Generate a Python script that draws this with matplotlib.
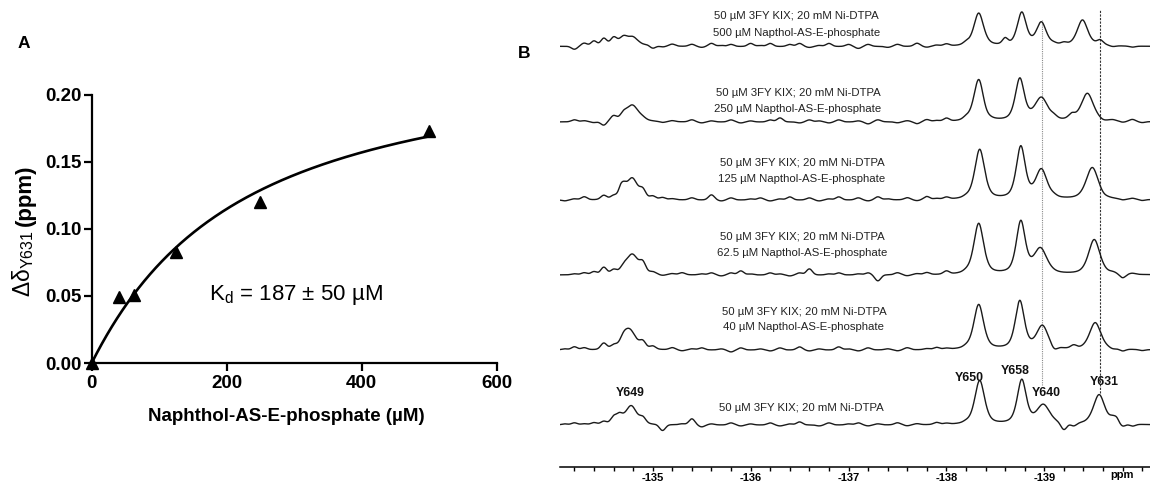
import numpy as np
import matplotlib
matplotlib.use("Agg")
import matplotlib.pyplot as plt

plt.rcParams['font.family'] = ['Liberation Sans', 'DejaVu Sans']
plt.rcParams['mathtext.fontset'] = 'custom'
plt.rcParams['mathtext.rm'] = 'Liberation Sans'
plt.rcParams['mathtext.it'] = 'Liberation Sans:italic'
plt.rcParams['mathtext.bf'] = 'Liberation Sans:bold'
plt.rcParams['axes.unicode_minus'] = False

# ---------------- Panel A data ----------------
ligand_uM = [0, 40, 62.5, 125, 250, 500]
delta_ppm = [0.0, 0.049, 0.051, 0.083, 0.120, 0.173]
kd_uM = 187
kd_err_uM = 50
protein_uM = 50
delta_max = 0.237
a_xticks = [0, 200, 400, 600]
a_yticks = [0.00, 0.05, 0.10, 0.15, 0.20]

# ---------------- Panel B data ----------------
conc_labels = ["500", "250", "125", "62.5", "40", None]
peak_names = ["Y649", "Y650", "Y658", "Y640", "Y631"]
peak_pos = [
    [-134.75, -138.33, -138.77, -138.97, -139.39],
    [-134.79, -138.33, -138.75, -138.97, -139.44],
    [-134.79, -138.34, -138.76, -138.97, -139.49],
    [-134.79, -138.33, -138.76, -138.96, -139.51],
    [-134.76, -138.33, -138.75, -138.98, -139.52],
    [-134.78, -138.34, -138.77, -138.99, -139.56],
]
peak_height = [
    [9, 33, 33, 23, 26],
    [17, 42, 42, 23, 28],
    [22, 50, 52, 29, 32],
    [21, 51, 52, 25, 35],
    [21, 45, 48, 23, 27],
    [19, 44, 44, 19, 30],
]
peak_hwhm = [
    [0.13, 0.06, 0.055, 0.06, 0.065],
    [0.08, 0.06, 0.055, 0.08, 0.075],
    [0.07, 0.06, 0.055, 0.07, 0.075],
    [0.08, 0.06, 0.055, 0.08, 0.07],
    [0.08, 0.06, 0.055, 0.07, 0.07],
    [0.07, 0.06, 0.055, 0.08, 0.07],
]
minor_pos = [[-139.57, -138.60], [-139.28, -134.60], [-134.67], [], [], [-134.66, -139.74]]
minor_height = [[5, 3], [5, 3], [6], [], [], [8, 4]]
minor_hwhm = [[0.04, 0.03], [0.04, 0.04], [0.03], [], [], [0.04, 0.03]]

ripple_ppm = [round(-134.1 - 0.1 * i, 2) for i in range(60)]
ripple_amp = [
    [0, -3, 3, 5, 7, 6, 3, 2, -1, -3,
     -1, 2, 0, 2, -1, 3, 1, 2, 0, 3,
     1, 3, 0, 2, 3, -1, 1, 3, 0, 2,
     -2, 2, 0, -1, 2, 0, 3, -1, 1, 2,
     0, 2, 0, 0, 0, 3, 0, 0, 0, 0,
     1, 2, 0, 0, 0, 0, -1, 0, -1, 0],
    [0, 2, 1, -1, -4, 2, 4, 0, 1, 0,
     -1, 1, 0, 2, -1, 1, 0, 2, -1, 1,
     0, 2, 4, 0, -1, 2, 1, -1, 2, 0,
     1, -2, 2, 0, -1, 1, -2, 2, 1, 3,
     0, 2, 0, -2, 0, 0, 0, 0, 0, 0,
     2, 0, 0, 0, 0, -1, 1, -1, 2, -1],
    [-1, 1, 3, 0, 4, 3, 8, 0, 7, 3,
     2, 1, 0, 2, 0, 5, -1, 2, 0, 1,
     2, -1, 1, 3, 0, 2, -1, 1, 3, 0,
     2, -1, 3, 1, 0, 2, -1, 3, 1, 2,
     0, 1, 0, 0, 0, 0, 0, 0, 0, 0,
     1, 0, 0, 0, 0, -1, 0, -1, 1, -1],
    [0, 1, 2, 3, 7, 4, 3, 0, 8, 2,
     -1, 1, 2, 0, 1, 2, -1, 2, 4, 1,
     0, 2, 1, -1, 2, 6, 0, 1, 2, 0,
     1, 2, -6, 0, 2, -1, 1, 2, 0, 3,
     0, 1, 0, 0, 0, 0, 0, 0, 0, 0,
     0, 0, 0, 0, 0, 0, 1, -4, 1, 0],
    [1, 3, 2, 0, 6, 3, 4, 0, 6, 3,
     0, 2, -1, 1, 2, 0, 1, -2, 2, 0,
     1, -1, 2, 0, 3, -1, 1, 0, 3, 1,
     -1, 2, 0, 1, -1, 2, 0, 1, 2, 1,
     0, 1, 0, 0, 0, 0, 0, 0, 0, 0,
     -4, 0, 3, 0, 0, 0, -1, -2, 0, -1],
    [1, 2, 1, 2, 3, 6, 0, 0, 5, 0,
     -6, 0, 1, 6, -2, 1, 0, 2, -1, 1,
     0, 2, -1, 1, 3, 0, -1, 2, 0, 1,
     2, -1, 1, 0, 2, -1, 1, 0, 2, 1,
     0, 1, 0, 0, 0, 0, 0, 0, 0, 0,
     0, -7, -3, 0, 0, 0, 4, -3, -2, 0],
]
b_major_ticks = [-135, -136, -137, -138, -139]
b_minor_ticks = [round(-134.2 - 0.2 * i, 1) for i in range(30)]
ref_line_ppm = [-138.975, -139.57]

# ---------------- layout (pixels) ----------------
W, H = 1150, 483
def fx(px):
    return px / W
def fy(py):
    return 1 - py / H

fig = plt.figure(figsize=(W / 100, H / 100), dpi=100)

# ---- Panel A ----
axA = fig.add_axes([fx(91.7), fy(363), (496.7 - 91.7) / W, (363 - 94.7) / H])
L = np.linspace(0, 500, 400)
s = protein_uM + L + kd_uM
fit = delta_max * (s - np.sqrt(s ** 2 - 4 * protein_uM * L)) / (2 * protein_uM)
axA.plot(L, fit, color='black', lw=1.9, zorder=2)
axA.plot(ligand_uM, delta_ppm, linestyle='none', marker='^', ms=8.5,
         color='black', clip_on=False, zorder=3)
axA.set_xlim(0, 600)
axA.set_ylim(0, 0.2)
axA.set_xticks(a_xticks)
axA.set_yticks(a_yticks)
axA.set_yticklabels([f"{v:.2f}" for v in a_yticks])
for sp in ['top', 'right']:
    axA.spines[sp].set_visible(False)
for sp in ['left', 'bottom']:
    axA.spines[sp].set_linewidth(1.6)
axA.tick_params(direction='out', length=6, width=1.6, labelsize=13.5)
axA.tick_params(axis='y', pad=1.5)
axA.tick_params(axis='x', pad=3)
for lab in axA.get_xticklabels() + axA.get_yticklabels():
    lab.set_fontweight('bold')

fig.text(fx(286.6), fy(416.7), "Naphthol-AS-E-phosphate (µM)", ha='center',
         va='center', fontsize=13.5, fontweight='bold')
t1 = fig.text(fx(30.5), fy(297), "Δδ$_{\\mathregular{Y631}}$", rotation=90,
              rotation_mode='anchor', ha='left', va='baseline', fontsize=16.5)
fig.canvas.draw()
bb = t1.get_window_extent()
fig.text(fx(30.5), (bb.y1 + 4) / H, "(ppm)", rotation=90, rotation_mode='anchor',
         ha='left', va='baseline', fontsize=16, fontweight='bold')
fig.text(fx(209), fy(300), f"K$_{{\\mathregular{{d}}}}$ = {kd_uM} ± {kd_err_uM} µM",
         ha='left', va='baseline', fontsize=16)
fig.text(fx(23.5), fy(44), "A", ha='center', va='center', fontsize=12.5, fontweight='bold')
fig.text(fx(524.6), fy(54), "B", ha='center', va='center', fontsize=12.5, fontweight='bold')

# ---- Panel B ----
axB = fig.add_axes([fx(560), fy(467), (W - 560) / W, 467 / H])
x_left = -135 - (560 - 652.7) / 97.9
x_right = -135 - (W - 652.7) / 97.9
axB.set_xlim(x_left, x_right)
axB.set_ylim(0, 467)

baseline_px = [46.5, 122, 200, 275, 350, 425]
label_y_px = [(16, 32.5), (93.3, 109), (163.3, 179), (237.3, 253.3), (311.7, 327.3), (408.3,)]
label_x_px = [796.5, 798, 802, 802, 804, 801]

def ppm_of(px):
    return -135 - (px - 652.7) / 97.9

def pv(xv, p, h, w, eta=0.55):
    lor = 1 / (1 + ((xv - p) / w) ** 2)
    gau = np.exp(-np.log(2) * ((xv - p) / w) ** 2)
    return h * (eta * lor + (1 - eta) * gau)

x = np.linspace(x_left, x_right, 2500)
sig = 0.03
for k in range(6):
    y = np.full_like(x, 467 - baseline_px[k])
    for p, h, w in zip(peak_pos[k], peak_height[k], peak_hwhm[k]):
        y += pv(x, p, h, w)
    for p, h, w in zip(minor_pos[k], minor_height[k], minor_hwhm[k]):
        y += pv(x, p, h, w)
    for p, a in zip(ripple_ppm, ripple_amp[k]):
        y += a * np.exp(-0.5 * ((x - p) / sig) ** 2)
    axB.plot(x, y, color='#1a1a1a', lw=1.0, zorder=3)

    lines = ["50 µM 3FY KIX; 20 mM Ni-DTPA"]
    if conc_labels[k] is not None:
        lines.append(f"{conc_labels[k]} µM Napthol-AS-E-phosphate")
    for txt, ly in zip(lines, label_y_px[k]):
        axB.text(ppm_of(label_x_px[k]), 467 - ly, txt, ha='center', va='center',
                 fontsize=8.2, color='#222222')

# reference lines
axB.plot([ref_line_ppm[0]] * 2, [467 - 385, 467 - 20], color='#8a8a8a', lw=0.8,
         linestyle=(0, (1, 1)), zorder=2)
axB.plot([ref_line_ppm[1]] * 2, [467 - 393, 467 - 9], color='#333333', lw=0.8,
         linestyle=(0, (2, 1.2)), zorder=2)

# peak labels
peak_label_px = [(629.7, 393.5), (969.3, 378), (1015, 370.7), (1046.7, 393.3), (1104, 381.7)]
for name, (lx, ly) in zip(peak_names, peak_label_px):
    axB.text(ppm_of(lx), 467 - ly, name, ha='center', va='center', fontsize=8.8,
             fontweight='bold', color='#111111', zorder=4)

for sp in ['top', 'right', 'left']:
    axB.spines[sp].set_visible(False)
axB.spines['bottom'].set_linewidth(1.1)
axB.set_yticks([])
axB.set_xticks(b_major_ticks)
axB.set_xticklabels([str(t) for t in b_major_ticks])
axB.set_xticks([t for t in b_minor_ticks if t not in b_major_ticks], minor=True)
axB.tick_params(axis='x', which='both', direction='out', length=3.2, width=1.0,
                labelsize=8, pad=0.8)
for lab in axB.get_xticklabels():
    lab.set_fontweight('bold')
fig.text(fx(1122.3), fy(475.5), "ppm", ha='center', va='center', fontsize=8,
         fontweight='bold')

fig.savefig("out.png", dpi=100)
